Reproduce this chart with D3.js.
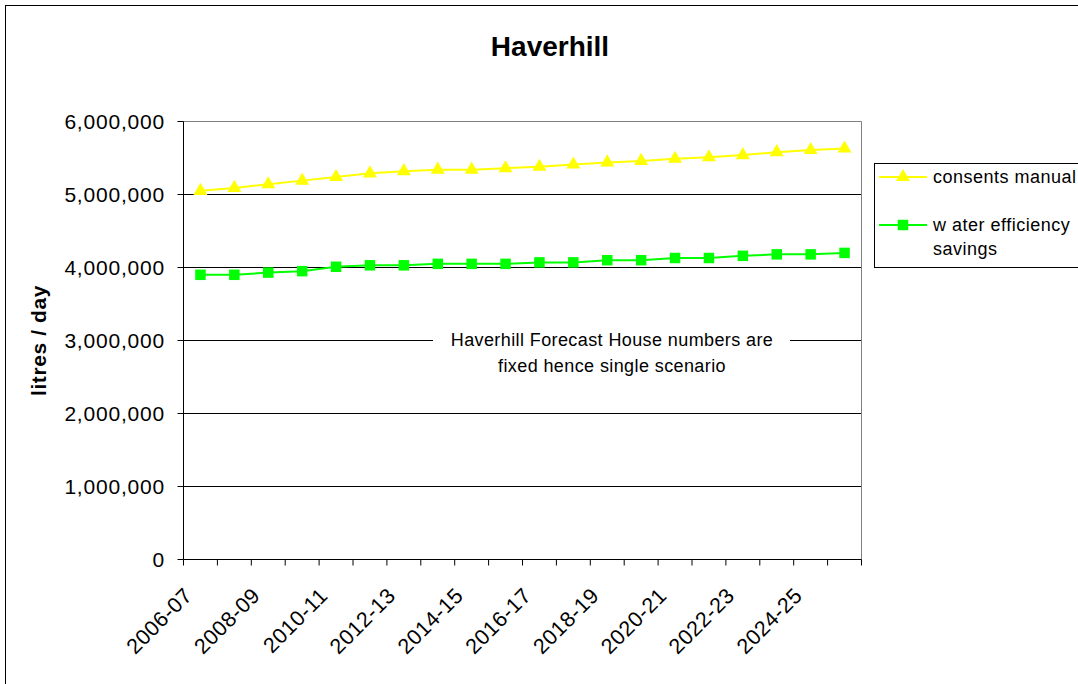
<!DOCTYPE html>
<html>
<head>
<meta charset="utf-8">
<script src="https://cdn.jsdelivr.net/npm/d3@7"></script>
<style>
	body { margin: 0; background: #fff; }
	text { font-family: "Liberation Sans", Arial, sans-serif; fill: #000; }
</style>
</head>
<body>
<div id="svg_chart"></div>
<script>
var width = 1078;
var height = 684;

// chart values
var categories = ["2006-07", "2007-08", "2008-09", "2009-10", "2010-11", "2011-12", "2012-13", "2013-14",
	"2014-15", "2015-16", "2016-17", "2017-18", "2018-19", "2019-20", "2020-21", "2021-22",
	"2022-23", "2023-24", "2024-25", "2025-26"];
var consents = [5050000, 5090000, 5140000, 5190000, 5240000, 5290000, 5320000, 5340000, 5340000, 5360000,
	5380000, 5410000, 5440000, 5460000, 5490000, 5510000, 5540000, 5580000, 5610000, 5630000];
var waterEff = [3900000, 3900000, 3930000, 3950000, 4010000, 4030000, 4030000, 4050000, 4050000, 4050000,
	4070000, 4070000, 4100000, 4100000, 4130000, 4130000, 4160000, 4180000, 4180000, 4200000];
var yTicks = [0, 1000000, 2000000, 3000000, 4000000, 5000000, 6000000];
var seriesNames = ["consents manual", "w ater efficiency|savings"];
var note = ["Haverhill Forecast House numbers are", "fixed hence single scenario"];

// plot area (window.top is reserved, so plain names are avoided)
var plotLeft = 183.5, plotRight = 861.5, plotTop = 121.5, plotBottom = 559.5;

var xAxis = d3.scaleBand()
	.domain(categories)
	.range([plotLeft, plotRight])
	.padding(0);

var yAxis = d3.scaleLinear()
	.domain([0, 6000000])
	.range([plotBottom, plotTop]);

var fmt = d3.format(",");

var svg = d3.select("#svg_chart").append("svg")
	.attr("width", width)
	.attr("height", height);

// outer chart border (runs off the right and bottom)
svg.append("rect")
	.attr("x", 5.5).attr("y", 5.5)
	.attr("width", 1100).attr("height", 720)
	.attr("fill", "#fff")
	.attr("stroke", "#000");

// title
svg.append("text")
	.attr("x", 550).attr("y", 56)
	.attr("text-anchor", "middle")
	.style("font-size", "28px")
	.style("font-weight", "bold")
	.text("Haverhill");

// gridlines
svg.append("g").selectAll("line")
	.data(yTicks.filter(d => d > 0 && d < 6000000))
	.enter().append("line")
	.attr("x1", plotLeft).attr("x2", plotRight)
	.attr("y1", d => yAxis(d)).attr("y2", d => yAxis(d))
	.attr("stroke", "#000");

// plot border top / right in grey
svg.append("path")
	.attr("d", `M${plotLeft},${plotTop}H${plotRight}V${plotBottom}`)
	.attr("fill", "none")
	.attr("stroke", "#808080");

// y axis
var yg = svg.append("g");
yg.append("line")
	.attr("x1", plotLeft).attr("x2", plotLeft)
	.attr("y1", plotTop).attr("y2", plotBottom)
	.attr("stroke", "#000");
yg.selectAll("line.tick").data(yTicks).enter().append("line")
	.attr("class", "tick")
	.attr("x1", plotLeft - 6).attr("x2", plotLeft)
	.attr("y1", d => yAxis(d)).attr("y2", d => yAxis(d))
	.attr("stroke", "#000");
yg.selectAll("text").data(yTicks).enter().append("text")
	.attr("x", 165)
	.attr("y", d => yAxis(d))
	.attr("dy", "0.36em")
	.attr("text-anchor", "end")
	.style("font-size", "21px")
	.style("letter-spacing", "0.8px")
	.text(d => fmt(d));

// y axis title
svg.append("text")
	.attr("transform", `translate(46, ${(plotTop + plotBottom) / 2}) rotate(-90)`)
	.attr("text-anchor", "middle")
	.style("font-size", "21px")
	.style("font-weight", "bold")
	.style("letter-spacing", "0.6px")
	.text("litres / day");

// x axis
var xg = svg.append("g");
xg.append("line")
	.attr("x1", plotLeft).attr("x2", plotRight)
	.attr("y1", plotBottom).attr("y2", plotBottom)
	.attr("stroke", "#000");
var bounds = categories.map(d => xAxis(d)).concat([plotRight]);
xg.selectAll("line.tick").data(bounds).enter().append("line")
	.attr("class", "tick")
	.attr("x1", d => d).attr("x2", d => d)
	.attr("y1", plotBottom).attr("y2", plotBottom + 6)
	.attr("stroke", "#000");
xg.selectAll("text").data(categories.filter((d, i) => i % 2 == 0)).enter().append("text")
	.attr("transform", d => `translate(${xAxis(d) + xAxis.bandwidth() / 2 - 7}, 597) rotate(-45)`)
	.attr("text-anchor", "end")
	.style("font-size", "21.5px")
	.style("letter-spacing", "0.5px")
	.text(d => d);

// note in the middle of the plot, white behind it hides the gridline
svg.append("rect")
	.attr("x", 433).attr("y", 328)
	.attr("width", 357).attr("height", 24)
	.attr("fill", "#fff");
svg.append("g").selectAll("text").data(note).enter().append("text")
	.attr("x", 612)
	.attr("y", (d, i) => 346 + i * 26)
	.attr("text-anchor", "middle")
	.style("font-size", "18px")
	.style("letter-spacing", "0.4px")
	.text(d => d);

// series
var series = [
	{ name: seriesNames[0], values: consents, color: "#ffff00", symbol: d3.symbolTriangle, size: 85 },
	{ name: seriesNames[1], values: waterEff, color: "#00ff00", symbol: d3.symbolSquare, size: 110 }
];

var line = d3.line()
	.x((d, i) => xAxis(categories[i]) + xAxis.bandwidth() / 2)
	.y(d => yAxis(d));

series.forEach(function (s) {
	svg.append("path")
		.attr("d", line(s.values))
		.attr("fill", "none")
		.attr("stroke", s.color)
		.attr("stroke-width", 2);
	svg.append("g").selectAll("path").data(s.values).enter().append("path")
		.attr("transform", (d, i) => `translate(${xAxis(categories[i]) + xAxis.bandwidth() / 2}, ${yAxis(d)})`)
		.attr("d", d3.symbol().type(s.symbol).size(s.size))
		.attr("fill", s.color);
});

// legend
var legend = svg.append("g");
legend.append("rect")
	.attr("x", 874.5).attr("y", 163.5)
	.attr("width", 260).attr("height", 104)
	.attr("fill", "#fff")
	.attr("stroke", "#000");

var legendY = [177, 225];
var legend_item = legend.selectAll("g.item").data(series).enter().append("g")
	.attr("class", "item")
	.attr("transform", (d, i) => `translate(0, ${legendY[i]})`);
legend_item.append("line")
	.attr("x1", 879).attr("x2", 927)
	.attr("stroke", d => d.color)
	.attr("stroke-width", 2);
legend_item.append("path")
	.attr("transform", "translate(903, 0)")
	.attr("d", d => d3.symbol().type(d.symbol).size(d.size)())
	.attr("fill", d => d.color);
legend_item.append("text")
	.attr("x", 933)
	.style("font-size", "18px")
	.style("letter-spacing", "0.5px")
	.selectAll("tspan").data(d => d.name.split("|")).enter().append("tspan")
	.attr("x", 933)
	.attr("y", (d, i) => 6 + i * 24)
	.text(d => d);
</script>
</body>
</html>
